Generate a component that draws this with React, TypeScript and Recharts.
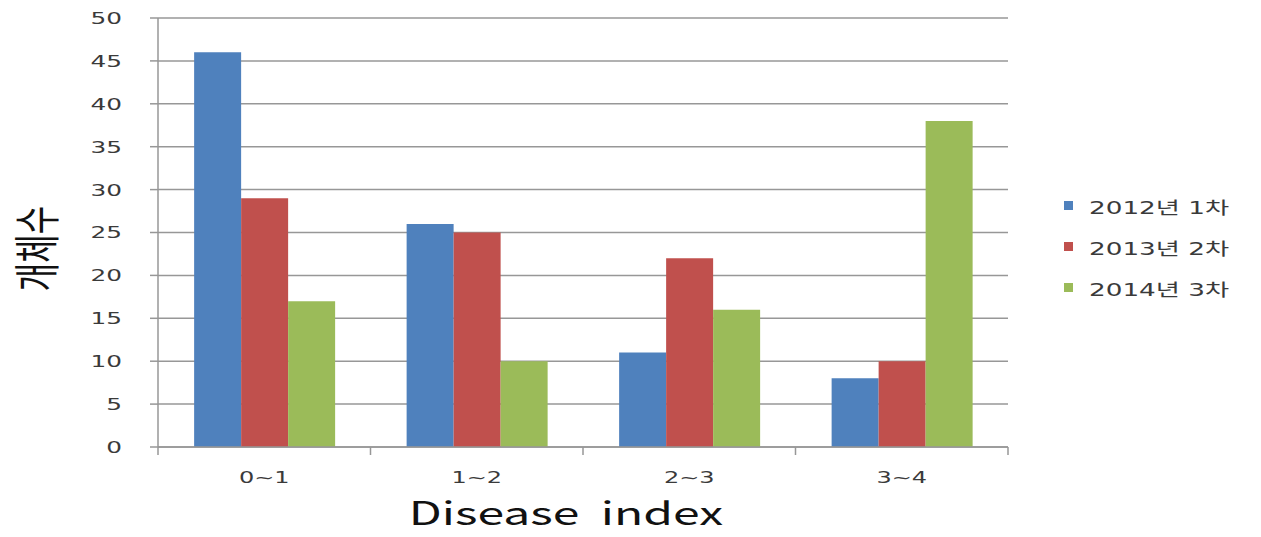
import React from "react";
import { BarChart, Bar, XAxis, YAxis, CartesianGrid, Legend, Label } from "recharts";

// Disease index classes
const categories = ["0~1", "1~2", "2~3", "3~4"];

// Number of plants per survey
const survey2012 = [46, 26, 11, 8];
const survey2013 = [29, 25, 22, 10];
const survey2014 = [17, 10, 16, 38];

const seriesNames = ["2012년 1차", "2013년 2차", "2014년 3차"];
const seriesKeys = ["s2012", "s2013", "s2014"];
const seriesColors = ["#4F81BD", "#C0504D", "#9BBB59"];

const yTicks = [0, 5, 10, 15, 20, 25, 30, 35, 40, 45, 50];

const data = categories.map((c, i) => ({
  name: c,
  s2012: survey2012[i],
  s2013: survey2013[i],
  s2014: survey2014[i],
}));

// horizontal text stretch used throughout the chart
const SX = 1.5;
const NUM_FONT = "'DejaVu Sans', 'Noto Sans CJK KR', sans-serif";
const KR_FONT = "'Noto Sans CJK KR', 'Noto Sans', sans-serif";
const TEXT = "#3a3a3a";
const GRID = "#979797";

const YTick = (props: any) => {
  const { x, y, payload } = props;
  return (
    <text
      transform={`translate(${x},${y}) scale(${SX},1)`}
      textAnchor="end"
      dy="0.36em"
      fontFamily={NUM_FONT}
      fontSize={16.5}
      fill={TEXT}
    >
      {payload.value}
    </text>
  );
};

const XTick = (props: any) => {
  const { x, y, payload, index, visibleTicksCount } = props;
  const half = payload.offset ?? 0;
  const axisY = y - 8;
  const last = index === visibleTicksCount - 1;
  return (
    <g>
      <line x1={x - half} x2={x - half} y1={axisY} y2={axisY + 8} stroke={GRID} strokeWidth={1.5} />
      {last && <line x1={x + half} x2={x + half} y1={axisY} y2={axisY + 8} stroke={GRID} strokeWidth={1.5} />}
      <text
        transform={`translate(${x},${axisY + 36}) scale(${SX},1)`}
        textAnchor="middle"
        fontFamily={NUM_FONT}
        fontSize={16}
        fill={TEXT}
      >
        {payload.value}
      </text>
    </g>
  );
};

const XTitle = (props: any) => {
  const { viewBox } = props;
  const cx = viewBox.x + viewBox.width / 2 - 17;
  return (
    <text
      transform={`translate(${cx},${viewBox.y + 78}) scale(${SX},1)`}
      textAnchor="middle"
      fontFamily={KR_FONT}
      fontSize={32}
      fill="#111"
    >
      {"Disease\u00a0\u00a0index"}
    </text>
  );
};

const YTitle = (props: any) => {
  const { viewBox } = props;
  const cy = viewBox.y + viewBox.height / 2 + 16;
  return (
    <text
      transform={`translate(${37},${cy}) scale(${SX},1) rotate(-90)`}
      textAnchor="middle"
      dy="0.36em"
      fontFamily={KR_FONT}
      fontSize={31}
      fill="#111"
    >
      개체수
    </text>
  );
};

const renderLegend = () => (
  <div>
    {seriesNames.map((n, i) => (
      <div key={n} style={{ height: 41, display: "flex", alignItems: "center" }}>
        <span
          style={{
            display: "inline-block",
            width: 9,
            height: 9,
            background: seriesColors[i],
            marginRight: 16,
            marginTop: -3,
          }}
        />
        <span
          style={{
            display: "inline-block",
            transform: `scaleX(${SX})`,
            transformOrigin: "left center",
            fontFamily: NUM_FONT,
            fontSize: 17.5,
            color: TEXT,
            whiteSpace: "nowrap",
          }}
        >
          {n}
        </span>
      </div>
    ))}
  </div>
);

export default function App() {
  return (
    <div style={{ position: "absolute", left: 0, top: 0, width: 1261, height: 537, background: "#fff" }}>
      <BarChart
        width={1261}
        height={537}
        data={data}
        margin={{ top: 18, right: 253, left: 0, bottom: 0 }}
        barCategoryGap="17%"
        barGap={0}
      >
        <CartesianGrid horizontal vertical={false} stroke={GRID} strokeWidth={1.5} />
        <XAxis
          dataKey="name"
          height={90}
          axisLine={{ stroke: GRID, strokeWidth: 1.5 }}
          tickLine={false}
          tickSize={8}
          tickMargin={0}
          tick={<XTick />}
          interval={0}
        >
          <Label content={<XTitle />} />
        </XAxis>
        <YAxis
          width={158}
          domain={[0, 50]}
          ticks={yTicks}
          interval={0}
          axisLine={{ stroke: GRID, strokeWidth: 1.5 }}
          tickLine={{ stroke: GRID, strokeWidth: 1.5 }}
          tickSize={8}
          tickMargin={28}
          tick={<YTick />}
        >
          <Label content={<YTitle />} />
        </YAxis>
        <Legend
          layout="vertical"
          align="center"
          verticalAlign="middle"
          content={renderLegend}
          wrapperStyle={{ left: 1064, top: 186, width: 200 }}
        />
        {seriesKeys.map((k, i) => (
          <Bar key={k} dataKey={k} name={seriesNames[i]} fill={seriesColors[i]} isAnimationActive={false} />
        ))}
      </BarChart>
    </div>
  );
}
